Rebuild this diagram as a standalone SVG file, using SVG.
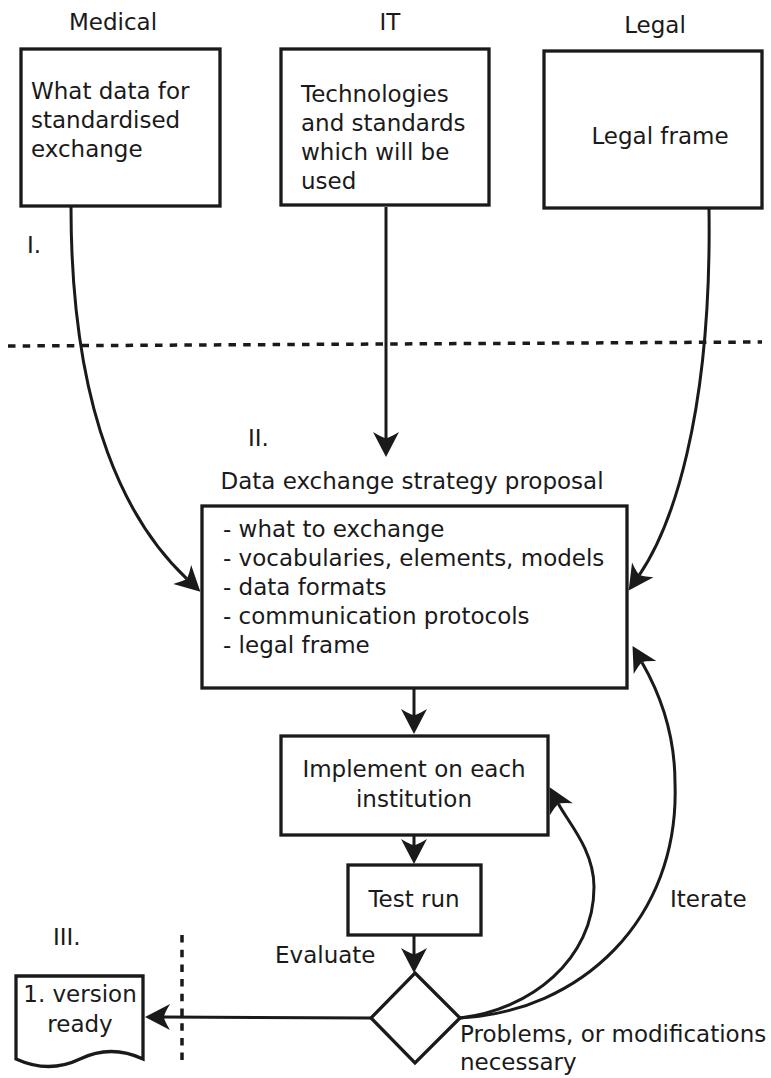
<svg xmlns="http://www.w3.org/2000/svg" width="771" height="1078" viewBox="0 0 771 1078">
<style>
  text { font-family: "DejaVu Sans", "Liberation Sans", sans-serif; font-size: 23px; fill: #1a1a1a; }
  .mid { text-anchor: middle; }
  .box { fill: #ffffff; stroke: #1a1a1a; stroke-width: 3.3; }
  .con { fill: none; stroke: #1a1a1a; stroke-width: 3; marker-end: url(#arr); }
  .dash { fill: none; stroke: #1a1a1a; stroke-width: 3.5; stroke-dasharray: 7.5 7.2; }
</style>
<defs>
  <marker id="arr" markerUnits="userSpaceOnUse" refX="0" refY="0" markerWidth="60" markerHeight="60" orient="auto" overflow="visible">
    <path d="M19,0 L-6,-13 Q0,-3 0,0 Q0,3 -6,13 Z" fill="#1a1a1a"/>
  </marker>
</defs>
<rect width="771" height="1078" fill="#ffffff"/>

<g id="labels">
  <text class="mid" x="113" y="30">Medical</text>
  <text class="mid" x="390" y="30">IT</text>
  <text class="mid" x="655" y="33">Legal</text>
  <text x="27" y="253">I.</text>
  <text x="248" y="446">II.</text>
  <text x="53" y="945">III.</text>
  <text class="mid" x="412" y="489">Data exchange strategy proposal</text>
  <text x="275" y="963">Evaluate</text>
  <text x="670" y="907">Iterate</text>
  <text x="460" y="1042">Problems, or modifications</text>
  <text x="460" y="1070">necessary</text>
</g>

<g id="separators">
  <path class="dash" d="M8,346 L762,342"/>
  <path class="dash" d="M182,935 L182,1063"/>
</g>

<g id="connectors">
  <path class="con" d="M71,207 C71,420 130,525 186.6,578.6"/>
  <path class="con" d="M386,207 L386,438"/>
  <path class="con" d="M709,209 C712,420 670,530 639.4,574.8"/>
  <path class="con" d="M414,689 L414,715"/>
  <path class="con" d="M414,836 L414,845"/>
  <path class="con" d="M414,936 L414,954"/>
  <path class="con" d="M371,1018 L164,1017"/>
  <path class="con" d="M460,1018 C530,1010 594,960 594,887 C594,850 568,822 558.5,804"/>
  <path class="con" d="M460,1018 C580,1012 680,920 675,783 C675,725 655,685 642,662.4"/>
</g>

<g id="medical">
  <rect class="box" x="21" y="49" width="199" height="157"/>
  <text x="31" y="99">What data for</text>
  <text x="31" y="128">standardised</text>
  <text x="31" y="157">exchange</text>
</g>

<g id="it">
  <rect class="box" x="281" y="49" width="208" height="156"/>
  <text x="301" y="102">Technologies</text>
  <text x="301" y="131">and standards</text>
  <text x="301" y="160">which will be</text>
  <text x="301" y="189">used</text>
</g>

<g id="legal">
  <rect class="box" x="544" y="51" width="218" height="157"/>
  <text class="mid" x="660" y="144">Legal frame</text>
</g>

<g id="strategy">
  <rect class="box" x="202" y="506" width="425" height="182"/>
  <text x="223" y="537">- what to exchange</text>
  <text x="223" y="566">- vocabularies, elements, models</text>
  <text x="223" y="595">- data formats</text>
  <text x="223" y="624">- communication protocols</text>
  <text x="223" y="653">- legal frame</text>
</g>

<g id="implement">
  <rect class="box" x="281" y="736" width="267" height="99"/>
  <text class="mid" x="414" y="777">Implement on each</text>
  <text class="mid" x="414" y="807">institution</text>
</g>

<g id="testrun">
  <rect class="box" x="348" y="865" width="133" height="70"/>
  <text class="mid" x="414" y="907">Test run</text>
</g>

<g id="decision">
  <polygon class="box" points="415,973 460,1018 415,1063 371,1018"/>
</g>

<g id="version">
  <path class="box" d="M16,976 H143 V1059 Q111,1044 80,1059 T16,1059 Z"/>
  <text class="mid" x="80" y="1002">1. version</text>
  <text class="mid" x="80" y="1032">ready</text>
</g>
</svg>
